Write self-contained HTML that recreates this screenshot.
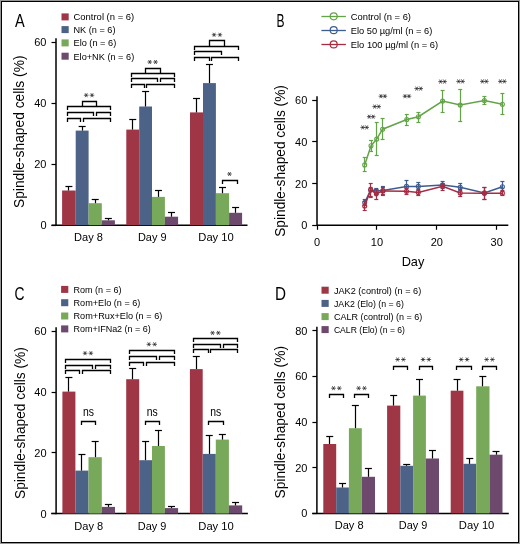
<!DOCTYPE html>
<html><head><meta charset="utf-8"><style>
html,body{margin:0;padding:0;background:#fff;}
body{width:520px;height:544px;overflow:hidden;}
svg{display:block;font-family:"Liberation Sans", sans-serif;will-change:transform;}
</style></head><body>
<svg width="520" height="544" viewBox="0 0 520 544">
<rect x="0" y="0" width="520" height="544" fill="#fff"/>
<rect x="0.5" y="0.5" width="519" height="543" fill="none" stroke="#969696" stroke-width="1"/>
<rect x="1.5" y="1.5" width="517" height="541" fill="none" stroke="#000" stroke-width="1"/>
<line x1="56.00" y1="38.30" x2="56.00" y2="225.80" stroke="#000" stroke-width="1.5"/>
<line x1="51.50" y1="225.20" x2="247.50" y2="225.20" stroke="#000" stroke-width="1.5"/>
<line x1="51.50" y1="225.50" x2="56.00" y2="225.50" stroke="#000" stroke-width="1.2"/>
<text x="46.50" y="229.10" font-size="11" text-anchor="end">0</text>
<line x1="51.50" y1="164.50" x2="56.00" y2="164.50" stroke="#000" stroke-width="1.2"/>
<text x="46.50" y="168.10" font-size="11" text-anchor="end">20</text>
<line x1="51.50" y1="103.50" x2="56.00" y2="103.50" stroke="#000" stroke-width="1.2"/>
<text x="46.50" y="107.10" font-size="11" text-anchor="end">40</text>
<line x1="51.50" y1="42.50" x2="56.00" y2="42.50" stroke="#000" stroke-width="1.2"/>
<text x="46.50" y="46.10" font-size="11" text-anchor="end">60</text>
<rect x="62.10" y="190.50" width="13.60" height="34.70" fill="#9f3646"/>
<rect x="75.70" y="130.60" width="12.90" height="94.60" fill="#4c6287"/>
<rect x="88.60" y="203.20" width="13.20" height="22.00" fill="#78a95a"/>
<rect x="101.80" y="220.30" width="13.10" height="4.90" fill="#6d4a6d"/>
<line x1="68.50" y1="190.50" x2="68.50" y2="186.30" stroke="#000" stroke-width="1.2"/>
<line x1="65.40" y1="186.50" x2="72.40" y2="186.50" stroke="#000" stroke-width="1.2"/>
<line x1="82.50" y1="130.60" x2="82.50" y2="126.00" stroke="#000" stroke-width="1.2"/>
<line x1="78.65" y1="126.50" x2="85.65" y2="126.50" stroke="#000" stroke-width="1.2"/>
<line x1="95.50" y1="203.20" x2="95.50" y2="199.60" stroke="#000" stroke-width="1.2"/>
<line x1="91.70" y1="199.50" x2="98.70" y2="199.50" stroke="#000" stroke-width="1.2"/>
<line x1="108.50" y1="220.30" x2="108.50" y2="218.60" stroke="#000" stroke-width="1.2"/>
<line x1="104.85" y1="218.50" x2="111.85" y2="218.50" stroke="#000" stroke-width="1.2"/>
<text x="88.50" y="240.50" font-size="11.5" text-anchor="middle" textLength="28.90" lengthAdjust="spacingAndGlyphs">Day 8</text>
<rect x="126.30" y="129.60" width="12.90" height="95.60" fill="#9f3646"/>
<rect x="139.20" y="106.50" width="12.80" height="118.70" fill="#4c6287"/>
<rect x="152.00" y="196.90" width="12.90" height="28.30" fill="#78a95a"/>
<rect x="164.90" y="216.70" width="13.20" height="8.50" fill="#6d4a6d"/>
<line x1="132.50" y1="129.60" x2="132.50" y2="119.70" stroke="#000" stroke-width="1.2"/>
<line x1="129.25" y1="119.50" x2="136.25" y2="119.50" stroke="#000" stroke-width="1.2"/>
<line x1="145.50" y1="106.50" x2="145.50" y2="91.80" stroke="#000" stroke-width="1.2"/>
<line x1="142.10" y1="91.50" x2="149.10" y2="91.50" stroke="#000" stroke-width="1.2"/>
<line x1="158.50" y1="196.90" x2="158.50" y2="190.80" stroke="#000" stroke-width="1.2"/>
<line x1="154.95" y1="190.50" x2="161.95" y2="190.50" stroke="#000" stroke-width="1.2"/>
<line x1="171.50" y1="216.70" x2="171.50" y2="212.70" stroke="#000" stroke-width="1.2"/>
<line x1="168.00" y1="212.50" x2="175.00" y2="212.50" stroke="#000" stroke-width="1.2"/>
<text x="152.20" y="240.50" font-size="11.5" text-anchor="middle" textLength="28.60" lengthAdjust="spacingAndGlyphs">Day 9</text>
<rect x="190.00" y="112.40" width="13.00" height="112.80" fill="#9f3646"/>
<rect x="203.00" y="83.10" width="12.90" height="142.10" fill="#4c6287"/>
<rect x="215.90" y="193.20" width="13.20" height="32.00" fill="#78a95a"/>
<rect x="229.10" y="212.80" width="13.00" height="12.40" fill="#6d4a6d"/>
<line x1="196.50" y1="112.40" x2="196.50" y2="98.80" stroke="#000" stroke-width="1.2"/>
<line x1="193.00" y1="98.50" x2="200.00" y2="98.50" stroke="#000" stroke-width="1.2"/>
<line x1="209.50" y1="83.10" x2="209.50" y2="64.10" stroke="#000" stroke-width="1.2"/>
<line x1="205.95" y1="64.50" x2="212.95" y2="64.50" stroke="#000" stroke-width="1.2"/>
<line x1="222.50" y1="193.20" x2="222.50" y2="187.70" stroke="#000" stroke-width="1.2"/>
<line x1="219.00" y1="187.50" x2="226.00" y2="187.50" stroke="#000" stroke-width="1.2"/>
<line x1="235.50" y1="212.80" x2="235.50" y2="207.00" stroke="#000" stroke-width="1.2"/>
<line x1="232.10" y1="207.50" x2="239.10" y2="207.50" stroke="#000" stroke-width="1.2"/>
<text x="216.05" y="240.50" font-size="11.5" text-anchor="middle" textLength="35.50" lengthAdjust="spacingAndGlyphs">Day 10</text>
<text x="15.10" y="26.60" font-size="18" text-anchor="start" textLength="9.70" lengthAdjust="spacingAndGlyphs">A</text>
<rect x="61.50" y="13.40" width="7.20" height="7.00" fill="#9f3646"/>
<text x="73.50" y="20.30" font-size="9.6" text-anchor="start" textLength="60.70" lengthAdjust="spacingAndGlyphs">Control (n = 6)</text>
<rect x="61.50" y="26.10" width="7.20" height="7.00" fill="#4c6287"/>
<text x="73.50" y="33.00" font-size="9.6" text-anchor="start" textLength="42.00" lengthAdjust="spacingAndGlyphs">NK (n = 6)</text>
<rect x="61.50" y="39.40" width="7.20" height="7.00" fill="#78a95a"/>
<text x="73.50" y="46.30" font-size="9.6" text-anchor="start" textLength="42.70" lengthAdjust="spacingAndGlyphs">Elo (n = 6)</text>
<rect x="61.50" y="52.70" width="7.20" height="7.00" fill="#6d4a6d"/>
<text x="73.50" y="59.60" font-size="9.6" text-anchor="start" textLength="60.70" lengthAdjust="spacingAndGlyphs">Elo+NK (n = 6)</text>
<text transform="translate(24.10,131.75) rotate(-90)" x="0" y="0" font-size="14" text-anchor="middle" textLength="152.50" lengthAdjust="spacingAndGlyphs">Spindle-shaped cells (%)</text>
<path d="M82.50,106.50V101.50H96.50V106.50" fill="none" stroke="#000" stroke-width="1.3"/>
<path d="M67.50,110.10V106.50H110.50V110.10" fill="none" stroke="#000" stroke-width="1.3"/>
<path d="M67.50,116.10V112.50H93.50V116.10" fill="none" stroke="#000" stroke-width="1.3"/>
<path d="M96.50,116.10V112.50H110.50V116.10" fill="none" stroke="#000" stroke-width="1.3"/>
<path d="M67.50,122.10V118.50H80.50V122.10" fill="none" stroke="#000" stroke-width="1.3"/>
<path d="M83.50,122.10V118.50H110.50V122.10" fill="none" stroke="#000" stroke-width="1.3"/>
<line x1="83.90" y1="95.20" x2="88.50" y2="95.20" stroke="#1a1a1a" stroke-width="0.7"/>
<line x1="85.05" y1="93.21" x2="87.35" y2="97.19" stroke="#1a1a1a" stroke-width="0.7"/>
<line x1="87.35" y1="93.21" x2="85.05" y2="97.19" stroke="#1a1a1a" stroke-width="0.7"/>
<line x1="89.70" y1="95.20" x2="94.30" y2="95.20" stroke="#1a1a1a" stroke-width="0.7"/>
<line x1="90.85" y1="93.21" x2="93.15" y2="97.19" stroke="#1a1a1a" stroke-width="0.7"/>
<line x1="93.15" y1="93.21" x2="90.85" y2="97.19" stroke="#1a1a1a" stroke-width="0.7"/>
<path d="M145.50,73.50V68.50H160.50V73.50" fill="none" stroke="#000" stroke-width="1.3"/>
<path d="M131.50,77.10V73.50H174.50V77.10" fill="none" stroke="#000" stroke-width="1.3"/>
<path d="M131.50,82.10V78.50H157.50V82.10" fill="none" stroke="#000" stroke-width="1.3"/>
<path d="M160.50,82.10V78.50H174.50V82.10" fill="none" stroke="#000" stroke-width="1.3"/>
<path d="M131.50,88.10V84.50H144.50V88.10" fill="none" stroke="#000" stroke-width="1.3"/>
<path d="M146.50,88.10V84.50H174.50V88.10" fill="none" stroke="#000" stroke-width="1.3"/>
<line x1="147.45" y1="62.00" x2="152.05" y2="62.00" stroke="#1a1a1a" stroke-width="0.7"/>
<line x1="148.60" y1="60.01" x2="150.90" y2="63.99" stroke="#1a1a1a" stroke-width="0.7"/>
<line x1="150.90" y1="60.01" x2="148.60" y2="63.99" stroke="#1a1a1a" stroke-width="0.7"/>
<line x1="153.25" y1="62.00" x2="157.85" y2="62.00" stroke="#1a1a1a" stroke-width="0.7"/>
<line x1="154.40" y1="60.01" x2="156.70" y2="63.99" stroke="#1a1a1a" stroke-width="0.7"/>
<line x1="156.70" y1="60.01" x2="154.40" y2="63.99" stroke="#1a1a1a" stroke-width="0.7"/>
<path d="M209.50,46.50V40.50H224.50V46.50" fill="none" stroke="#000" stroke-width="1.3"/>
<path d="M194.50,50.10V46.50H238.50V50.10" fill="none" stroke="#000" stroke-width="1.3"/>
<path d="M194.50,55.10V51.50H221.50V55.10" fill="none" stroke="#000" stroke-width="1.3"/>
<path d="M194.50,61.10V57.50H209.50V61.10" fill="none" stroke="#000" stroke-width="1.3"/>
<path d="M211.50,61.10V57.50H238.50V61.10" fill="none" stroke="#000" stroke-width="1.3"/>
<line x1="211.80" y1="34.80" x2="216.40" y2="34.80" stroke="#1a1a1a" stroke-width="0.7"/>
<line x1="212.95" y1="32.81" x2="215.25" y2="36.79" stroke="#1a1a1a" stroke-width="0.7"/>
<line x1="215.25" y1="32.81" x2="212.95" y2="36.79" stroke="#1a1a1a" stroke-width="0.7"/>
<line x1="217.60" y1="34.80" x2="222.20" y2="34.80" stroke="#1a1a1a" stroke-width="0.7"/>
<line x1="218.75" y1="32.81" x2="221.05" y2="36.79" stroke="#1a1a1a" stroke-width="0.7"/>
<line x1="221.05" y1="32.81" x2="218.75" y2="36.79" stroke="#1a1a1a" stroke-width="0.7"/>
<path d="M222.50,184.10V180.50H237.50V184.10" fill="none" stroke="#000" stroke-width="1.3"/>
<line x1="227.20" y1="174.00" x2="231.80" y2="174.00" stroke="#1a1a1a" stroke-width="0.7"/>
<line x1="228.35" y1="172.01" x2="230.65" y2="175.99" stroke="#1a1a1a" stroke-width="0.7"/>
<line x1="230.65" y1="172.01" x2="228.35" y2="175.99" stroke="#1a1a1a" stroke-width="0.7"/>
<line x1="317.00" y1="96.20" x2="317.00" y2="225.90" stroke="#000" stroke-width="1.5"/>
<line x1="317.00" y1="225.30" x2="508.30" y2="225.30" stroke="#000" stroke-width="1.5"/>
<line x1="312.20" y1="225.50" x2="317.00" y2="225.50" stroke="#000" stroke-width="1.2"/>
<text x="307.30" y="229.20" font-size="11" text-anchor="end">0</text>
<line x1="312.20" y1="183.50" x2="317.00" y2="183.50" stroke="#000" stroke-width="1.2"/>
<text x="307.30" y="187.53" font-size="11" text-anchor="end">20</text>
<line x1="312.20" y1="141.50" x2="317.00" y2="141.50" stroke="#000" stroke-width="1.2"/>
<text x="307.30" y="145.87" font-size="11" text-anchor="end">40</text>
<line x1="312.20" y1="100.50" x2="317.00" y2="100.50" stroke="#000" stroke-width="1.2"/>
<text x="307.30" y="104.20" font-size="11" text-anchor="end">60</text>
<line x1="317.50" y1="225.30" x2="317.50" y2="229.80" stroke="#000" stroke-width="1.2"/>
<text x="317.00" y="245.80" font-size="11" text-anchor="middle">0</text>
<line x1="376.50" y1="225.30" x2="376.50" y2="229.80" stroke="#000" stroke-width="1.2"/>
<text x="376.90" y="245.80" font-size="11" text-anchor="middle">10</text>
<line x1="436.50" y1="225.30" x2="436.50" y2="229.80" stroke="#000" stroke-width="1.2"/>
<text x="436.80" y="245.80" font-size="11" text-anchor="middle">20</text>
<line x1="496.50" y1="225.30" x2="496.50" y2="229.80" stroke="#000" stroke-width="1.2"/>
<text x="496.70" y="245.80" font-size="11" text-anchor="middle">30</text>
<text x="413.00" y="266.00" font-size="13.5" text-anchor="middle" textLength="22.70" lengthAdjust="spacingAndGlyphs">Day</text>
<text x="276.50" y="26.70" font-size="18" text-anchor="start" textLength="8.00" lengthAdjust="spacingAndGlyphs">B</text>
<text transform="translate(284.70,160.95) rotate(-90)" x="0" y="0" font-size="14" text-anchor="middle" textLength="151.70" lengthAdjust="spacingAndGlyphs">Spindle-shaped cells (%)</text>
<path d="M364.70,202.60 L370.70,190.00 L376.30,190.90 L382.90,190.50 L406.50,186.40 L418.30,186.40 L442.60,185.00 L460.20,187.20 L484.40,192.90 L502.40,186.70" fill="none" stroke="#3e5d8f" stroke-width="1.5"/>
<line x1="364.50" y1="199.60" x2="364.50" y2="205.00" stroke="#3e5d8f" stroke-width="1.2"/>
<line x1="362.70" y1="199.50" x2="366.70" y2="199.50" stroke="#3e5d8f" stroke-width="1.2"/>
<line x1="362.70" y1="205.50" x2="366.70" y2="205.50" stroke="#3e5d8f" stroke-width="1.2"/>
<circle cx="364.70" cy="202.60" r="2.0" fill="none" stroke="#3e5d8f" stroke-width="1.1"/>
<line x1="370.50" y1="187.80" x2="370.50" y2="197.60" stroke="#3e5d8f" stroke-width="1.2"/>
<line x1="368.70" y1="187.50" x2="372.70" y2="187.50" stroke="#3e5d8f" stroke-width="1.2"/>
<line x1="368.70" y1="197.50" x2="372.70" y2="197.50" stroke="#3e5d8f" stroke-width="1.2"/>
<circle cx="370.70" cy="190.00" r="2.0" fill="none" stroke="#3e5d8f" stroke-width="1.1"/>
<line x1="376.50" y1="188.00" x2="376.50" y2="194.00" stroke="#3e5d8f" stroke-width="1.2"/>
<line x1="374.30" y1="188.50" x2="378.30" y2="188.50" stroke="#3e5d8f" stroke-width="1.2"/>
<line x1="374.30" y1="194.50" x2="378.30" y2="194.50" stroke="#3e5d8f" stroke-width="1.2"/>
<circle cx="376.30" cy="190.90" r="2.0" fill="none" stroke="#3e5d8f" stroke-width="1.1"/>
<line x1="382.50" y1="186.40" x2="382.50" y2="195.60" stroke="#3e5d8f" stroke-width="1.2"/>
<line x1="380.90" y1="186.50" x2="384.90" y2="186.50" stroke="#3e5d8f" stroke-width="1.2"/>
<line x1="380.90" y1="195.50" x2="384.90" y2="195.50" stroke="#3e5d8f" stroke-width="1.2"/>
<circle cx="382.90" cy="190.50" r="2.0" fill="none" stroke="#3e5d8f" stroke-width="1.1"/>
<line x1="406.50" y1="180.70" x2="406.50" y2="191.80" stroke="#3e5d8f" stroke-width="1.2"/>
<line x1="404.50" y1="180.50" x2="408.50" y2="180.50" stroke="#3e5d8f" stroke-width="1.2"/>
<line x1="404.50" y1="191.50" x2="408.50" y2="191.50" stroke="#3e5d8f" stroke-width="1.2"/>
<circle cx="406.50" cy="186.40" r="2.0" fill="none" stroke="#3e5d8f" stroke-width="1.1"/>
<line x1="418.50" y1="182.40" x2="418.50" y2="189.80" stroke="#3e5d8f" stroke-width="1.2"/>
<line x1="416.30" y1="182.50" x2="420.30" y2="182.50" stroke="#3e5d8f" stroke-width="1.2"/>
<line x1="416.30" y1="189.50" x2="420.30" y2="189.50" stroke="#3e5d8f" stroke-width="1.2"/>
<circle cx="418.30" cy="186.40" r="2.0" fill="none" stroke="#3e5d8f" stroke-width="1.1"/>
<line x1="442.50" y1="181.80" x2="442.50" y2="188.00" stroke="#3e5d8f" stroke-width="1.2"/>
<line x1="440.60" y1="181.50" x2="444.60" y2="181.50" stroke="#3e5d8f" stroke-width="1.2"/>
<line x1="440.60" y1="188.50" x2="444.60" y2="188.50" stroke="#3e5d8f" stroke-width="1.2"/>
<circle cx="442.60" cy="185.00" r="2.0" fill="none" stroke="#3e5d8f" stroke-width="1.1"/>
<line x1="460.50" y1="183.90" x2="460.50" y2="190.40" stroke="#3e5d8f" stroke-width="1.2"/>
<line x1="458.20" y1="183.50" x2="462.20" y2="183.50" stroke="#3e5d8f" stroke-width="1.2"/>
<line x1="458.20" y1="190.50" x2="462.20" y2="190.50" stroke="#3e5d8f" stroke-width="1.2"/>
<circle cx="460.20" cy="187.20" r="2.0" fill="none" stroke="#3e5d8f" stroke-width="1.1"/>
<line x1="484.50" y1="187.00" x2="484.50" y2="199.40" stroke="#3e5d8f" stroke-width="1.2"/>
<line x1="482.40" y1="187.50" x2="486.40" y2="187.50" stroke="#3e5d8f" stroke-width="1.2"/>
<line x1="482.40" y1="199.50" x2="486.40" y2="199.50" stroke="#3e5d8f" stroke-width="1.2"/>
<circle cx="484.40" cy="192.90" r="2.0" fill="none" stroke="#3e5d8f" stroke-width="1.1"/>
<line x1="502.50" y1="181.80" x2="502.50" y2="191.00" stroke="#3e5d8f" stroke-width="1.2"/>
<line x1="500.40" y1="181.50" x2="504.40" y2="181.50" stroke="#3e5d8f" stroke-width="1.2"/>
<line x1="500.40" y1="191.50" x2="504.40" y2="191.50" stroke="#3e5d8f" stroke-width="1.2"/>
<circle cx="502.40" cy="186.70" r="2.0" fill="none" stroke="#3e5d8f" stroke-width="1.1"/>
<path d="M364.70,206.00 L370.70,189.80 L376.30,193.80 L382.90,190.90 L406.50,191.20 L418.30,192.50 L442.60,186.30 L460.20,192.90 L484.40,193.20 L502.40,193.20" fill="none" stroke="#a52c42" stroke-width="1.5"/>
<line x1="364.50" y1="201.20" x2="364.50" y2="210.30" stroke="#a52c42" stroke-width="1.2"/>
<line x1="362.70" y1="201.50" x2="366.70" y2="201.50" stroke="#a52c42" stroke-width="1.2"/>
<line x1="362.70" y1="210.50" x2="366.70" y2="210.50" stroke="#a52c42" stroke-width="1.2"/>
<circle cx="364.70" cy="206.00" r="2.0" fill="none" stroke="#a52c42" stroke-width="1.1"/>
<line x1="370.50" y1="183.30" x2="370.50" y2="196.50" stroke="#a52c42" stroke-width="1.2"/>
<line x1="368.70" y1="183.50" x2="372.70" y2="183.50" stroke="#a52c42" stroke-width="1.2"/>
<line x1="368.70" y1="196.50" x2="372.70" y2="196.50" stroke="#a52c42" stroke-width="1.2"/>
<circle cx="370.70" cy="189.80" r="2.0" fill="none" stroke="#a52c42" stroke-width="1.1"/>
<line x1="376.50" y1="189.10" x2="376.50" y2="199.20" stroke="#a52c42" stroke-width="1.2"/>
<line x1="374.30" y1="189.50" x2="378.30" y2="189.50" stroke="#a52c42" stroke-width="1.2"/>
<line x1="374.30" y1="199.50" x2="378.30" y2="199.50" stroke="#a52c42" stroke-width="1.2"/>
<circle cx="376.30" cy="193.80" r="2.0" fill="none" stroke="#a52c42" stroke-width="1.1"/>
<line x1="382.50" y1="187.50" x2="382.50" y2="194.00" stroke="#a52c42" stroke-width="1.2"/>
<line x1="380.90" y1="187.50" x2="384.90" y2="187.50" stroke="#a52c42" stroke-width="1.2"/>
<line x1="380.90" y1="194.50" x2="384.90" y2="194.50" stroke="#a52c42" stroke-width="1.2"/>
<circle cx="382.90" cy="190.90" r="2.0" fill="none" stroke="#a52c42" stroke-width="1.1"/>
<line x1="406.50" y1="188.90" x2="406.50" y2="194.90" stroke="#a52c42" stroke-width="1.2"/>
<line x1="404.50" y1="188.50" x2="408.50" y2="188.50" stroke="#a52c42" stroke-width="1.2"/>
<line x1="404.50" y1="194.50" x2="408.50" y2="194.50" stroke="#a52c42" stroke-width="1.2"/>
<circle cx="406.50" cy="191.20" r="2.0" fill="none" stroke="#a52c42" stroke-width="1.1"/>
<line x1="418.50" y1="190.00" x2="418.50" y2="195.50" stroke="#a52c42" stroke-width="1.2"/>
<line x1="416.30" y1="190.50" x2="420.30" y2="190.50" stroke="#a52c42" stroke-width="1.2"/>
<line x1="416.30" y1="195.50" x2="420.30" y2="195.50" stroke="#a52c42" stroke-width="1.2"/>
<circle cx="418.30" cy="192.50" r="2.0" fill="none" stroke="#a52c42" stroke-width="1.1"/>
<line x1="442.50" y1="183.00" x2="442.50" y2="190.40" stroke="#a52c42" stroke-width="1.2"/>
<line x1="440.60" y1="183.50" x2="444.60" y2="183.50" stroke="#a52c42" stroke-width="1.2"/>
<line x1="440.60" y1="190.50" x2="444.60" y2="190.50" stroke="#a52c42" stroke-width="1.2"/>
<circle cx="442.60" cy="186.30" r="2.0" fill="none" stroke="#a52c42" stroke-width="1.1"/>
<line x1="460.50" y1="189.60" x2="460.50" y2="196.50" stroke="#a52c42" stroke-width="1.2"/>
<line x1="458.20" y1="189.50" x2="462.20" y2="189.50" stroke="#a52c42" stroke-width="1.2"/>
<line x1="458.20" y1="196.50" x2="462.20" y2="196.50" stroke="#a52c42" stroke-width="1.2"/>
<circle cx="460.20" cy="192.90" r="2.0" fill="none" stroke="#a52c42" stroke-width="1.1"/>
<line x1="484.50" y1="187.20" x2="484.50" y2="199.40" stroke="#a52c42" stroke-width="1.2"/>
<line x1="482.40" y1="187.50" x2="486.40" y2="187.50" stroke="#a52c42" stroke-width="1.2"/>
<line x1="482.40" y1="199.50" x2="486.40" y2="199.50" stroke="#a52c42" stroke-width="1.2"/>
<circle cx="484.40" cy="193.20" r="2.0" fill="none" stroke="#a52c42" stroke-width="1.1"/>
<line x1="502.50" y1="190.90" x2="502.50" y2="195.30" stroke="#a52c42" stroke-width="1.2"/>
<line x1="500.40" y1="190.50" x2="504.40" y2="190.50" stroke="#a52c42" stroke-width="1.2"/>
<line x1="500.40" y1="195.50" x2="504.40" y2="195.50" stroke="#a52c42" stroke-width="1.2"/>
<circle cx="502.40" cy="193.20" r="2.0" fill="none" stroke="#a52c42" stroke-width="1.1"/>
<path d="M364.70,164.90 L371.00,145.80 L376.70,139.10 L382.60,129.20 L406.80,119.50 L418.40,116.70 L442.60,101.10 L460.20,105.10 L484.40,100.60 L502.40,104.30" fill="none" stroke="#64a449" stroke-width="1.5"/>
<line x1="364.50" y1="157.50" x2="364.50" y2="171.50" stroke="#64a449" stroke-width="1.2"/>
<line x1="362.70" y1="157.50" x2="366.70" y2="157.50" stroke="#64a449" stroke-width="1.2"/>
<line x1="362.70" y1="171.50" x2="366.70" y2="171.50" stroke="#64a449" stroke-width="1.2"/>
<circle cx="364.70" cy="164.90" r="2.0" fill="none" stroke="#64a449" stroke-width="1.1"/>
<line x1="371.50" y1="140.60" x2="371.50" y2="151.30" stroke="#64a449" stroke-width="1.2"/>
<line x1="369.00" y1="140.50" x2="373.00" y2="140.50" stroke="#64a449" stroke-width="1.2"/>
<line x1="369.00" y1="151.50" x2="373.00" y2="151.50" stroke="#64a449" stroke-width="1.2"/>
<circle cx="371.00" cy="145.80" r="2.0" fill="none" stroke="#64a449" stroke-width="1.1"/>
<line x1="376.50" y1="122.60" x2="376.50" y2="155.30" stroke="#64a449" stroke-width="1.2"/>
<line x1="374.70" y1="122.50" x2="378.70" y2="122.50" stroke="#64a449" stroke-width="1.2"/>
<line x1="374.70" y1="155.50" x2="378.70" y2="155.50" stroke="#64a449" stroke-width="1.2"/>
<circle cx="376.70" cy="139.10" r="2.0" fill="none" stroke="#64a449" stroke-width="1.1"/>
<line x1="382.50" y1="118.90" x2="382.50" y2="139.70" stroke="#64a449" stroke-width="1.2"/>
<line x1="380.60" y1="118.50" x2="384.60" y2="118.50" stroke="#64a449" stroke-width="1.2"/>
<line x1="380.60" y1="139.50" x2="384.60" y2="139.50" stroke="#64a449" stroke-width="1.2"/>
<circle cx="382.60" cy="129.20" r="2.0" fill="none" stroke="#64a449" stroke-width="1.1"/>
<line x1="406.50" y1="114.00" x2="406.50" y2="125.90" stroke="#64a449" stroke-width="1.2"/>
<line x1="404.80" y1="114.50" x2="408.80" y2="114.50" stroke="#64a449" stroke-width="1.2"/>
<line x1="404.80" y1="125.50" x2="408.80" y2="125.50" stroke="#64a449" stroke-width="1.2"/>
<circle cx="406.80" cy="119.50" r="2.0" fill="none" stroke="#64a449" stroke-width="1.1"/>
<line x1="418.50" y1="112.10" x2="418.50" y2="122.20" stroke="#64a449" stroke-width="1.2"/>
<line x1="416.40" y1="112.50" x2="420.40" y2="112.50" stroke="#64a449" stroke-width="1.2"/>
<line x1="416.40" y1="122.50" x2="420.40" y2="122.50" stroke="#64a449" stroke-width="1.2"/>
<circle cx="418.40" cy="116.70" r="2.0" fill="none" stroke="#64a449" stroke-width="1.1"/>
<line x1="442.50" y1="90.40" x2="442.50" y2="112.50" stroke="#64a449" stroke-width="1.2"/>
<line x1="440.60" y1="90.50" x2="444.60" y2="90.50" stroke="#64a449" stroke-width="1.2"/>
<line x1="440.60" y1="112.50" x2="444.60" y2="112.50" stroke="#64a449" stroke-width="1.2"/>
<circle cx="442.60" cy="101.10" r="2.0" fill="none" stroke="#64a449" stroke-width="1.1"/>
<line x1="460.50" y1="89.10" x2="460.50" y2="121.00" stroke="#64a449" stroke-width="1.2"/>
<line x1="458.20" y1="89.50" x2="462.20" y2="89.50" stroke="#64a449" stroke-width="1.2"/>
<line x1="458.20" y1="121.50" x2="462.20" y2="121.50" stroke="#64a449" stroke-width="1.2"/>
<circle cx="460.20" cy="105.10" r="2.0" fill="none" stroke="#64a449" stroke-width="1.1"/>
<line x1="484.50" y1="96.20" x2="484.50" y2="104.80" stroke="#64a449" stroke-width="1.2"/>
<line x1="482.40" y1="96.50" x2="486.40" y2="96.50" stroke="#64a449" stroke-width="1.2"/>
<line x1="482.40" y1="104.50" x2="486.40" y2="104.50" stroke="#64a449" stroke-width="1.2"/>
<circle cx="484.40" cy="100.60" r="2.0" fill="none" stroke="#64a449" stroke-width="1.1"/>
<line x1="502.50" y1="93.70" x2="502.50" y2="114.60" stroke="#64a449" stroke-width="1.2"/>
<line x1="500.40" y1="93.50" x2="504.40" y2="93.50" stroke="#64a449" stroke-width="1.2"/>
<line x1="500.40" y1="114.50" x2="504.40" y2="114.50" stroke="#64a449" stroke-width="1.2"/>
<circle cx="502.40" cy="104.30" r="2.0" fill="none" stroke="#64a449" stroke-width="1.1"/>
<line x1="360.40" y1="127.40" x2="365.00" y2="127.40" stroke="#1a1a1a" stroke-width="0.7"/>
<line x1="361.55" y1="125.41" x2="363.85" y2="129.39" stroke="#1a1a1a" stroke-width="0.7"/>
<line x1="363.85" y1="125.41" x2="361.55" y2="129.39" stroke="#1a1a1a" stroke-width="0.7"/>
<line x1="364.40" y1="127.40" x2="369.00" y2="127.40" stroke="#1a1a1a" stroke-width="0.7"/>
<line x1="365.55" y1="125.41" x2="367.85" y2="129.39" stroke="#1a1a1a" stroke-width="0.7"/>
<line x1="367.85" y1="125.41" x2="365.55" y2="129.39" stroke="#1a1a1a" stroke-width="0.7"/>
<line x1="366.90" y1="116.70" x2="371.50" y2="116.70" stroke="#1a1a1a" stroke-width="0.7"/>
<line x1="368.05" y1="114.71" x2="370.35" y2="118.69" stroke="#1a1a1a" stroke-width="0.7"/>
<line x1="370.35" y1="114.71" x2="368.05" y2="118.69" stroke="#1a1a1a" stroke-width="0.7"/>
<line x1="370.90" y1="116.70" x2="375.50" y2="116.70" stroke="#1a1a1a" stroke-width="0.7"/>
<line x1="372.05" y1="114.71" x2="374.35" y2="118.69" stroke="#1a1a1a" stroke-width="0.7"/>
<line x1="374.35" y1="114.71" x2="372.05" y2="118.69" stroke="#1a1a1a" stroke-width="0.7"/>
<line x1="372.40" y1="106.60" x2="377.00" y2="106.60" stroke="#1a1a1a" stroke-width="0.7"/>
<line x1="373.55" y1="104.61" x2="375.85" y2="108.59" stroke="#1a1a1a" stroke-width="0.7"/>
<line x1="375.85" y1="104.61" x2="373.55" y2="108.59" stroke="#1a1a1a" stroke-width="0.7"/>
<line x1="376.40" y1="106.60" x2="381.00" y2="106.60" stroke="#1a1a1a" stroke-width="0.7"/>
<line x1="377.55" y1="104.61" x2="379.85" y2="108.59" stroke="#1a1a1a" stroke-width="0.7"/>
<line x1="379.85" y1="104.61" x2="377.55" y2="108.59" stroke="#1a1a1a" stroke-width="0.7"/>
<line x1="378.60" y1="96.20" x2="383.20" y2="96.20" stroke="#1a1a1a" stroke-width="0.7"/>
<line x1="379.75" y1="94.21" x2="382.05" y2="98.19" stroke="#1a1a1a" stroke-width="0.7"/>
<line x1="382.05" y1="94.21" x2="379.75" y2="98.19" stroke="#1a1a1a" stroke-width="0.7"/>
<line x1="382.60" y1="96.20" x2="387.20" y2="96.20" stroke="#1a1a1a" stroke-width="0.7"/>
<line x1="383.75" y1="94.21" x2="386.05" y2="98.19" stroke="#1a1a1a" stroke-width="0.7"/>
<line x1="386.05" y1="94.21" x2="383.75" y2="98.19" stroke="#1a1a1a" stroke-width="0.7"/>
<line x1="402.70" y1="96.20" x2="407.30" y2="96.20" stroke="#1a1a1a" stroke-width="0.7"/>
<line x1="403.85" y1="94.21" x2="406.15" y2="98.19" stroke="#1a1a1a" stroke-width="0.7"/>
<line x1="406.15" y1="94.21" x2="403.85" y2="98.19" stroke="#1a1a1a" stroke-width="0.7"/>
<line x1="406.70" y1="96.20" x2="411.30" y2="96.20" stroke="#1a1a1a" stroke-width="0.7"/>
<line x1="407.85" y1="94.21" x2="410.15" y2="98.19" stroke="#1a1a1a" stroke-width="0.7"/>
<line x1="410.15" y1="94.21" x2="407.85" y2="98.19" stroke="#1a1a1a" stroke-width="0.7"/>
<line x1="414.40" y1="88.60" x2="419.00" y2="88.60" stroke="#1a1a1a" stroke-width="0.7"/>
<line x1="415.55" y1="86.61" x2="417.85" y2="90.59" stroke="#1a1a1a" stroke-width="0.7"/>
<line x1="417.85" y1="86.61" x2="415.55" y2="90.59" stroke="#1a1a1a" stroke-width="0.7"/>
<line x1="418.40" y1="88.60" x2="423.00" y2="88.60" stroke="#1a1a1a" stroke-width="0.7"/>
<line x1="419.55" y1="86.61" x2="421.85" y2="90.59" stroke="#1a1a1a" stroke-width="0.7"/>
<line x1="421.85" y1="86.61" x2="419.55" y2="90.59" stroke="#1a1a1a" stroke-width="0.7"/>
<line x1="438.30" y1="81.60" x2="442.90" y2="81.60" stroke="#1a1a1a" stroke-width="0.7"/>
<line x1="439.45" y1="79.61" x2="441.75" y2="83.59" stroke="#1a1a1a" stroke-width="0.7"/>
<line x1="441.75" y1="79.61" x2="439.45" y2="83.59" stroke="#1a1a1a" stroke-width="0.7"/>
<line x1="442.30" y1="81.60" x2="446.90" y2="81.60" stroke="#1a1a1a" stroke-width="0.7"/>
<line x1="443.45" y1="79.61" x2="445.75" y2="83.59" stroke="#1a1a1a" stroke-width="0.7"/>
<line x1="445.75" y1="79.61" x2="443.45" y2="83.59" stroke="#1a1a1a" stroke-width="0.7"/>
<line x1="456.30" y1="81.40" x2="460.90" y2="81.40" stroke="#1a1a1a" stroke-width="0.7"/>
<line x1="457.45" y1="79.41" x2="459.75" y2="83.39" stroke="#1a1a1a" stroke-width="0.7"/>
<line x1="459.75" y1="79.41" x2="457.45" y2="83.39" stroke="#1a1a1a" stroke-width="0.7"/>
<line x1="460.30" y1="81.40" x2="464.90" y2="81.40" stroke="#1a1a1a" stroke-width="0.7"/>
<line x1="461.45" y1="79.41" x2="463.75" y2="83.39" stroke="#1a1a1a" stroke-width="0.7"/>
<line x1="463.75" y1="79.41" x2="461.45" y2="83.39" stroke="#1a1a1a" stroke-width="0.7"/>
<line x1="480.10" y1="81.40" x2="484.70" y2="81.40" stroke="#1a1a1a" stroke-width="0.7"/>
<line x1="481.25" y1="79.41" x2="483.55" y2="83.39" stroke="#1a1a1a" stroke-width="0.7"/>
<line x1="483.55" y1="79.41" x2="481.25" y2="83.39" stroke="#1a1a1a" stroke-width="0.7"/>
<line x1="484.10" y1="81.40" x2="488.70" y2="81.40" stroke="#1a1a1a" stroke-width="0.7"/>
<line x1="485.25" y1="79.41" x2="487.55" y2="83.39" stroke="#1a1a1a" stroke-width="0.7"/>
<line x1="487.55" y1="79.41" x2="485.25" y2="83.39" stroke="#1a1a1a" stroke-width="0.7"/>
<line x1="498.10" y1="81.40" x2="502.70" y2="81.40" stroke="#1a1a1a" stroke-width="0.7"/>
<line x1="499.25" y1="79.41" x2="501.55" y2="83.39" stroke="#1a1a1a" stroke-width="0.7"/>
<line x1="501.55" y1="79.41" x2="499.25" y2="83.39" stroke="#1a1a1a" stroke-width="0.7"/>
<line x1="502.10" y1="81.40" x2="506.70" y2="81.40" stroke="#1a1a1a" stroke-width="0.7"/>
<line x1="503.25" y1="79.41" x2="505.55" y2="83.39" stroke="#1a1a1a" stroke-width="0.7"/>
<line x1="505.55" y1="79.41" x2="503.25" y2="83.39" stroke="#1a1a1a" stroke-width="0.7"/>
<line x1="321.40" y1="16.50" x2="345.90" y2="16.50" stroke="#64a449" stroke-width="1.3"/>
<circle cx="333.7" cy="16.30" r="3.5" fill="none" stroke="#64a449" stroke-width="1.2"/>
<text x="350.80" y="19.70" font-size="9.6" text-anchor="start" textLength="60.20" lengthAdjust="spacingAndGlyphs">Control (n = 6)</text>
<line x1="321.40" y1="30.50" x2="345.90" y2="30.50" stroke="#3e5d8f" stroke-width="1.3"/>
<circle cx="333.7" cy="30.20" r="3.5" fill="none" stroke="#3e5d8f" stroke-width="1.2"/>
<text x="350.80" y="33.60" font-size="9.6" text-anchor="start" textLength="81.50" lengthAdjust="spacingAndGlyphs">Elo 50 µg/ml (n = 6)</text>
<line x1="321.40" y1="44.50" x2="345.90" y2="44.50" stroke="#a52c42" stroke-width="1.3"/>
<circle cx="333.7" cy="44.40" r="3.5" fill="none" stroke="#a52c42" stroke-width="1.2"/>
<text x="350.80" y="47.80" font-size="9.6" text-anchor="start" textLength="87.30" lengthAdjust="spacingAndGlyphs">Elo 100 µg/ml (n = 6)</text>
<line x1="56.10" y1="327.20" x2="56.10" y2="514.20" stroke="#000" stroke-width="1.5"/>
<line x1="51.20" y1="513.60" x2="247.90" y2="513.60" stroke="#000" stroke-width="1.5"/>
<line x1="51.60" y1="513.50" x2="56.10" y2="513.50" stroke="#000" stroke-width="1.2"/>
<text x="46.60" y="517.50" font-size="11" text-anchor="end">0</text>
<line x1="51.60" y1="452.50" x2="56.10" y2="452.50" stroke="#000" stroke-width="1.2"/>
<text x="46.60" y="456.76" font-size="11" text-anchor="end">20</text>
<line x1="51.60" y1="392.50" x2="56.10" y2="392.50" stroke="#000" stroke-width="1.2"/>
<text x="46.60" y="396.02" font-size="11" text-anchor="end">40</text>
<line x1="51.60" y1="331.50" x2="56.10" y2="331.50" stroke="#000" stroke-width="1.2"/>
<text x="46.60" y="335.28" font-size="11" text-anchor="end">60</text>
<rect x="62.40" y="391.60" width="13.00" height="122.00" fill="#9f3646"/>
<rect x="75.40" y="470.60" width="13.10" height="43.00" fill="#4c6287"/>
<rect x="88.50" y="457.20" width="13.30" height="56.40" fill="#78a95a"/>
<rect x="101.80" y="506.90" width="13.20" height="6.70" fill="#6d4a6d"/>
<line x1="68.50" y1="391.60" x2="68.50" y2="377.40" stroke="#000" stroke-width="1.2"/>
<line x1="65.40" y1="377.50" x2="72.40" y2="377.50" stroke="#000" stroke-width="1.2"/>
<line x1="81.50" y1="470.60" x2="81.50" y2="454.30" stroke="#000" stroke-width="1.2"/>
<line x1="78.45" y1="454.50" x2="85.45" y2="454.50" stroke="#000" stroke-width="1.2"/>
<line x1="95.50" y1="457.20" x2="95.50" y2="441.50" stroke="#000" stroke-width="1.2"/>
<line x1="91.65" y1="441.50" x2="98.65" y2="441.50" stroke="#000" stroke-width="1.2"/>
<line x1="108.50" y1="506.90" x2="108.50" y2="504.10" stroke="#000" stroke-width="1.2"/>
<line x1="104.90" y1="504.50" x2="111.90" y2="504.50" stroke="#000" stroke-width="1.2"/>
<text x="88.70" y="529.50" font-size="11.5" text-anchor="middle" textLength="28.90" lengthAdjust="spacingAndGlyphs">Day 8</text>
<rect x="126.20" y="379.20" width="13.00" height="134.40" fill="#9f3646"/>
<rect x="139.20" y="460.20" width="12.80" height="53.40" fill="#4c6287"/>
<rect x="152.00" y="446.00" width="12.90" height="67.60" fill="#78a95a"/>
<rect x="164.90" y="508.10" width="13.20" height="5.50" fill="#6d4a6d"/>
<line x1="132.50" y1="379.20" x2="132.50" y2="368.10" stroke="#000" stroke-width="1.2"/>
<line x1="129.20" y1="368.50" x2="136.20" y2="368.50" stroke="#000" stroke-width="1.2"/>
<line x1="145.50" y1="460.20" x2="145.50" y2="441.80" stroke="#000" stroke-width="1.2"/>
<line x1="142.10" y1="441.50" x2="149.10" y2="441.50" stroke="#000" stroke-width="1.2"/>
<line x1="158.50" y1="446.00" x2="158.50" y2="430.20" stroke="#000" stroke-width="1.2"/>
<line x1="154.95" y1="430.50" x2="161.95" y2="430.50" stroke="#000" stroke-width="1.2"/>
<line x1="171.50" y1="508.10" x2="171.50" y2="506.10" stroke="#000" stroke-width="1.2"/>
<line x1="168.00" y1="506.50" x2="175.00" y2="506.50" stroke="#000" stroke-width="1.2"/>
<text x="152.15" y="529.50" font-size="11.5" text-anchor="middle" textLength="28.60" lengthAdjust="spacingAndGlyphs">Day 9</text>
<rect x="189.90" y="369.10" width="12.80" height="144.50" fill="#9f3646"/>
<rect x="202.70" y="453.90" width="13.10" height="59.70" fill="#4c6287"/>
<rect x="215.80" y="439.60" width="13.10" height="74.00" fill="#78a95a"/>
<rect x="228.90" y="505.40" width="13.30" height="8.20" fill="#6d4a6d"/>
<line x1="196.50" y1="369.10" x2="196.50" y2="356.70" stroke="#000" stroke-width="1.2"/>
<line x1="192.80" y1="356.50" x2="199.80" y2="356.50" stroke="#000" stroke-width="1.2"/>
<line x1="209.50" y1="453.90" x2="209.50" y2="435.40" stroke="#000" stroke-width="1.2"/>
<line x1="205.75" y1="435.50" x2="212.75" y2="435.50" stroke="#000" stroke-width="1.2"/>
<line x1="222.50" y1="439.60" x2="222.50" y2="434.60" stroke="#000" stroke-width="1.2"/>
<line x1="218.85" y1="434.50" x2="225.85" y2="434.50" stroke="#000" stroke-width="1.2"/>
<line x1="235.50" y1="505.40" x2="235.50" y2="502.40" stroke="#000" stroke-width="1.2"/>
<line x1="232.05" y1="502.50" x2="239.05" y2="502.50" stroke="#000" stroke-width="1.2"/>
<text x="216.05" y="529.50" font-size="11.5" text-anchor="middle" textLength="35.50" lengthAdjust="spacingAndGlyphs">Day 10</text>
<text x="14.40" y="299.90" font-size="18" text-anchor="start" textLength="10.00" lengthAdjust="spacingAndGlyphs">C</text>
<rect x="61.10" y="285.90" width="7.20" height="7.00" fill="#9f3646"/>
<text x="73.50" y="292.80" font-size="9.6" text-anchor="start" textLength="48.00" lengthAdjust="spacingAndGlyphs">Rom (n = 6)</text>
<rect x="61.10" y="299.20" width="7.20" height="7.00" fill="#4c6287"/>
<text x="73.50" y="306.10" font-size="9.6" text-anchor="start" textLength="66.90" lengthAdjust="spacingAndGlyphs">Rom+Elo (n = 6)</text>
<rect x="61.10" y="312.50" width="7.20" height="7.00" fill="#78a95a"/>
<text x="73.50" y="319.40" font-size="9.6" text-anchor="start" textLength="88.80" lengthAdjust="spacingAndGlyphs">Rom+Rux+Elo (n = 6)</text>
<rect x="61.10" y="325.40" width="7.20" height="7.00" fill="#6d4a6d"/>
<text x="73.50" y="332.30" font-size="9.6" text-anchor="start" textLength="77.30" lengthAdjust="spacingAndGlyphs">Rom+IFNa2 (n = 6)</text>
<text transform="translate(24.50,423.05) rotate(-90)" x="0" y="0" font-size="14" text-anchor="middle" textLength="151.90" lengthAdjust="spacingAndGlyphs">Spindle-shaped cells (%)</text>
<path d="M65.50,363.10V359.50H110.50V363.10" fill="none" stroke="#000" stroke-width="1.3"/>
<path d="M65.50,369.10V365.50H92.50V369.10" fill="none" stroke="#000" stroke-width="1.3"/>
<path d="M95.50,369.10V365.50H110.50V369.10" fill="none" stroke="#000" stroke-width="1.3"/>
<path d="M65.50,374.10V370.50H79.50V374.10" fill="none" stroke="#000" stroke-width="1.3"/>
<path d="M82.50,374.10V370.50H110.50V374.10" fill="none" stroke="#000" stroke-width="1.3"/>
<line x1="82.75" y1="353.20" x2="87.35" y2="353.20" stroke="#1a1a1a" stroke-width="0.7"/>
<line x1="83.90" y1="351.21" x2="86.20" y2="355.19" stroke="#1a1a1a" stroke-width="0.7"/>
<line x1="86.20" y1="351.21" x2="83.90" y2="355.19" stroke="#1a1a1a" stroke-width="0.7"/>
<line x1="88.55" y1="353.20" x2="93.15" y2="353.20" stroke="#1a1a1a" stroke-width="0.7"/>
<line x1="89.70" y1="351.21" x2="92.00" y2="355.19" stroke="#1a1a1a" stroke-width="0.7"/>
<line x1="92.00" y1="351.21" x2="89.70" y2="355.19" stroke="#1a1a1a" stroke-width="0.7"/>
<path d="M81.50,425.10V421.50H95.50V425.10" fill="none" stroke="#000" stroke-width="1.3"/>
<text x="88.50" y="415.60" font-size="12.5" text-anchor="middle" textLength="11.00" lengthAdjust="spacingAndGlyphs">ns</text>
<path d="M129.50,354.10V350.50H174.50V354.10" fill="none" stroke="#000" stroke-width="1.3"/>
<path d="M129.50,360.10V356.50H156.50V360.10" fill="none" stroke="#000" stroke-width="1.3"/>
<path d="M159.50,360.10V356.50H174.50V360.10" fill="none" stroke="#000" stroke-width="1.3"/>
<path d="M129.50,366.10V362.50H143.50V366.10" fill="none" stroke="#000" stroke-width="1.3"/>
<path d="M146.50,366.10V362.50H174.50V366.10" fill="none" stroke="#000" stroke-width="1.3"/>
<line x1="146.55" y1="344.30" x2="151.15" y2="344.30" stroke="#1a1a1a" stroke-width="0.7"/>
<line x1="147.70" y1="342.31" x2="150.00" y2="346.29" stroke="#1a1a1a" stroke-width="0.7"/>
<line x1="150.00" y1="342.31" x2="147.70" y2="346.29" stroke="#1a1a1a" stroke-width="0.7"/>
<line x1="152.35" y1="344.30" x2="156.95" y2="344.30" stroke="#1a1a1a" stroke-width="0.7"/>
<line x1="153.50" y1="342.31" x2="155.80" y2="346.29" stroke="#1a1a1a" stroke-width="0.7"/>
<line x1="155.80" y1="342.31" x2="153.50" y2="346.29" stroke="#1a1a1a" stroke-width="0.7"/>
<path d="M145.50,425.10V421.50H159.50V425.10" fill="none" stroke="#000" stroke-width="1.3"/>
<text x="152.20" y="415.60" font-size="12.5" text-anchor="middle" textLength="11.00" lengthAdjust="spacingAndGlyphs">ns</text>
<path d="M193.50,342.10V338.50H237.50V342.10" fill="none" stroke="#000" stroke-width="1.3"/>
<path d="M193.50,348.10V344.50H220.50V348.10" fill="none" stroke="#000" stroke-width="1.3"/>
<path d="M223.50,348.10V344.50H237.50V348.10" fill="none" stroke="#000" stroke-width="1.3"/>
<path d="M193.50,353.10V349.50H208.50V353.10" fill="none" stroke="#000" stroke-width="1.3"/>
<path d="M210.50,353.10V349.50H237.50V353.10" fill="none" stroke="#000" stroke-width="1.3"/>
<line x1="210.25" y1="332.90" x2="214.85" y2="332.90" stroke="#1a1a1a" stroke-width="0.7"/>
<line x1="211.40" y1="330.91" x2="213.70" y2="334.89" stroke="#1a1a1a" stroke-width="0.7"/>
<line x1="213.70" y1="330.91" x2="211.40" y2="334.89" stroke="#1a1a1a" stroke-width="0.7"/>
<line x1="216.05" y1="332.90" x2="220.65" y2="332.90" stroke="#1a1a1a" stroke-width="0.7"/>
<line x1="217.20" y1="330.91" x2="219.50" y2="334.89" stroke="#1a1a1a" stroke-width="0.7"/>
<line x1="219.50" y1="330.91" x2="217.20" y2="334.89" stroke="#1a1a1a" stroke-width="0.7"/>
<path d="M208.50,425.10V421.50H223.50V425.10" fill="none" stroke="#000" stroke-width="1.3"/>
<text x="215.70" y="415.60" font-size="12.5" text-anchor="middle" textLength="11.00" lengthAdjust="spacingAndGlyphs">ns</text>
<line x1="316.90" y1="326.70" x2="316.90" y2="514.00" stroke="#000" stroke-width="1.5"/>
<line x1="312.20" y1="513.40" x2="508.80" y2="513.40" stroke="#000" stroke-width="1.5"/>
<line x1="312.40" y1="513.50" x2="316.90" y2="513.50" stroke="#000" stroke-width="1.2"/>
<text x="307.40" y="517.30" font-size="11" text-anchor="end">0</text>
<line x1="312.40" y1="467.50" x2="316.90" y2="467.50" stroke="#000" stroke-width="1.2"/>
<text x="307.40" y="471.62" font-size="11" text-anchor="end">20</text>
<line x1="312.40" y1="422.50" x2="316.90" y2="422.50" stroke="#000" stroke-width="1.2"/>
<text x="307.40" y="425.94" font-size="11" text-anchor="end">40</text>
<line x1="312.40" y1="376.50" x2="316.90" y2="376.50" stroke="#000" stroke-width="1.2"/>
<text x="307.40" y="380.26" font-size="11" text-anchor="end">60</text>
<line x1="312.40" y1="330.50" x2="316.90" y2="330.50" stroke="#000" stroke-width="1.2"/>
<text x="307.40" y="334.58" font-size="11" text-anchor="end">80</text>
<rect x="323.30" y="444.00" width="12.90" height="69.40" fill="#9f3646"/>
<rect x="336.20" y="487.50" width="12.70" height="25.90" fill="#4c6287"/>
<rect x="348.90" y="428.20" width="12.90" height="85.20" fill="#78a95a"/>
<rect x="361.80" y="476.80" width="13.20" height="36.60" fill="#6d4a6d"/>
<line x1="329.50" y1="444.00" x2="329.50" y2="436.60" stroke="#000" stroke-width="1.2"/>
<line x1="326.25" y1="436.50" x2="333.25" y2="436.50" stroke="#000" stroke-width="1.2"/>
<line x1="342.50" y1="487.50" x2="342.50" y2="483.70" stroke="#000" stroke-width="1.2"/>
<line x1="339.05" y1="483.50" x2="346.05" y2="483.50" stroke="#000" stroke-width="1.2"/>
<line x1="355.50" y1="428.20" x2="355.50" y2="405.60" stroke="#000" stroke-width="1.2"/>
<line x1="351.85" y1="405.50" x2="358.85" y2="405.50" stroke="#000" stroke-width="1.2"/>
<line x1="368.50" y1="476.80" x2="368.50" y2="468.80" stroke="#000" stroke-width="1.2"/>
<line x1="364.90" y1="468.50" x2="371.90" y2="468.50" stroke="#000" stroke-width="1.2"/>
<text x="349.15" y="528.80" font-size="11.5" text-anchor="middle" textLength="28.90" lengthAdjust="spacingAndGlyphs">Day 8</text>
<rect x="387.10" y="405.60" width="13.20" height="107.80" fill="#9f3646"/>
<rect x="400.30" y="465.80" width="12.80" height="47.60" fill="#4c6287"/>
<rect x="413.10" y="395.60" width="12.80" height="117.80" fill="#78a95a"/>
<rect x="425.90" y="458.50" width="13.10" height="54.90" fill="#6d4a6d"/>
<line x1="393.50" y1="405.60" x2="393.50" y2="395.10" stroke="#000" stroke-width="1.2"/>
<line x1="390.20" y1="395.50" x2="397.20" y2="395.50" stroke="#000" stroke-width="1.2"/>
<line x1="406.50" y1="465.80" x2="406.50" y2="464.00" stroke="#000" stroke-width="1.2"/>
<line x1="403.20" y1="464.50" x2="410.20" y2="464.50" stroke="#000" stroke-width="1.2"/>
<line x1="419.50" y1="395.60" x2="419.50" y2="379.30" stroke="#000" stroke-width="1.2"/>
<line x1="416.00" y1="379.50" x2="423.00" y2="379.50" stroke="#000" stroke-width="1.2"/>
<line x1="432.50" y1="458.50" x2="432.50" y2="450.80" stroke="#000" stroke-width="1.2"/>
<line x1="428.95" y1="450.50" x2="435.95" y2="450.50" stroke="#000" stroke-width="1.2"/>
<text x="413.05" y="528.80" font-size="11.5" text-anchor="middle" textLength="28.60" lengthAdjust="spacingAndGlyphs">Day 9</text>
<rect x="450.70" y="390.70" width="12.70" height="122.70" fill="#9f3646"/>
<rect x="463.40" y="463.80" width="12.80" height="49.60" fill="#4c6287"/>
<rect x="476.20" y="386.30" width="13.30" height="127.10" fill="#78a95a"/>
<rect x="489.50" y="454.70" width="13.00" height="58.70" fill="#6d4a6d"/>
<line x1="457.50" y1="390.70" x2="457.50" y2="379.30" stroke="#000" stroke-width="1.2"/>
<line x1="453.55" y1="379.50" x2="460.55" y2="379.50" stroke="#000" stroke-width="1.2"/>
<line x1="469.50" y1="463.80" x2="469.50" y2="458.80" stroke="#000" stroke-width="1.2"/>
<line x1="466.30" y1="458.50" x2="473.30" y2="458.50" stroke="#000" stroke-width="1.2"/>
<line x1="482.50" y1="386.30" x2="482.50" y2="376.80" stroke="#000" stroke-width="1.2"/>
<line x1="479.35" y1="376.50" x2="486.35" y2="376.50" stroke="#000" stroke-width="1.2"/>
<line x1="496.50" y1="454.70" x2="496.50" y2="451.50" stroke="#000" stroke-width="1.2"/>
<line x1="492.50" y1="451.50" x2="499.50" y2="451.50" stroke="#000" stroke-width="1.2"/>
<text x="476.60" y="528.80" font-size="11.5" text-anchor="middle" textLength="35.50" lengthAdjust="spacingAndGlyphs">Day 10</text>
<text x="275.00" y="299.90" font-size="18" text-anchor="start" textLength="11.00" lengthAdjust="spacingAndGlyphs">D</text>
<rect x="321.50" y="286.70" width="7.20" height="7.00" fill="#9f3646"/>
<text x="333.90" y="293.60" font-size="9.6" text-anchor="start" textLength="87.30" lengthAdjust="spacingAndGlyphs">JAK2 (control) (n = 6)</text>
<rect x="321.50" y="299.90" width="7.20" height="7.00" fill="#4c6287"/>
<text x="333.90" y="306.80" font-size="9.6" text-anchor="start" textLength="70.00" lengthAdjust="spacingAndGlyphs">JAK2 (Elo) (n = 6)</text>
<rect x="321.50" y="313.10" width="7.20" height="7.00" fill="#78a95a"/>
<text x="333.90" y="320.00" font-size="9.6" text-anchor="start" textLength="88.40" lengthAdjust="spacingAndGlyphs">CALR (control) (n = 6)</text>
<rect x="321.50" y="326.10" width="7.20" height="7.00" fill="#6d4a6d"/>
<text x="333.90" y="333.00" font-size="9.6" text-anchor="start" textLength="71.10" lengthAdjust="spacingAndGlyphs">CALR (Elo) (n = 6)</text>
<text transform="translate(285.30,422.25) rotate(-90)" x="0" y="0" font-size="14" text-anchor="middle" textLength="152.50" lengthAdjust="spacingAndGlyphs">Spindle-shaped cells (%)</text>
<path d="M329.50,398.10V394.50H343.50V398.10" fill="none" stroke="#000" stroke-width="1.3"/>
<line x1="331.20" y1="388.20" x2="335.80" y2="388.20" stroke="#1a1a1a" stroke-width="0.7"/>
<line x1="332.35" y1="386.21" x2="334.65" y2="390.19" stroke="#1a1a1a" stroke-width="0.7"/>
<line x1="334.65" y1="386.21" x2="332.35" y2="390.19" stroke="#1a1a1a" stroke-width="0.7"/>
<line x1="337.00" y1="388.20" x2="341.60" y2="388.20" stroke="#1a1a1a" stroke-width="0.7"/>
<line x1="338.15" y1="386.21" x2="340.45" y2="390.19" stroke="#1a1a1a" stroke-width="0.7"/>
<line x1="340.45" y1="386.21" x2="338.15" y2="390.19" stroke="#1a1a1a" stroke-width="0.7"/>
<path d="M354.50,398.10V394.50H368.50V398.10" fill="none" stroke="#000" stroke-width="1.3"/>
<line x1="356.35" y1="388.20" x2="360.95" y2="388.20" stroke="#1a1a1a" stroke-width="0.7"/>
<line x1="357.50" y1="386.21" x2="359.80" y2="390.19" stroke="#1a1a1a" stroke-width="0.7"/>
<line x1="359.80" y1="386.21" x2="357.50" y2="390.19" stroke="#1a1a1a" stroke-width="0.7"/>
<line x1="362.15" y1="388.20" x2="366.75" y2="388.20" stroke="#1a1a1a" stroke-width="0.7"/>
<line x1="363.30" y1="386.21" x2="365.60" y2="390.19" stroke="#1a1a1a" stroke-width="0.7"/>
<line x1="365.60" y1="386.21" x2="363.30" y2="390.19" stroke="#1a1a1a" stroke-width="0.7"/>
<path d="M393.50,370.10V366.50H407.50V370.10" fill="none" stroke="#000" stroke-width="1.3"/>
<line x1="395.30" y1="359.50" x2="399.90" y2="359.50" stroke="#1a1a1a" stroke-width="0.7"/>
<line x1="396.45" y1="357.51" x2="398.75" y2="361.49" stroke="#1a1a1a" stroke-width="0.7"/>
<line x1="398.75" y1="357.51" x2="396.45" y2="361.49" stroke="#1a1a1a" stroke-width="0.7"/>
<line x1="401.10" y1="359.50" x2="405.70" y2="359.50" stroke="#1a1a1a" stroke-width="0.7"/>
<line x1="402.25" y1="357.51" x2="404.55" y2="361.49" stroke="#1a1a1a" stroke-width="0.7"/>
<line x1="404.55" y1="357.51" x2="402.25" y2="361.49" stroke="#1a1a1a" stroke-width="0.7"/>
<path d="M419.50,370.10V366.50H432.50V370.10" fill="none" stroke="#000" stroke-width="1.3"/>
<line x1="420.75" y1="359.50" x2="425.35" y2="359.50" stroke="#1a1a1a" stroke-width="0.7"/>
<line x1="421.90" y1="357.51" x2="424.20" y2="361.49" stroke="#1a1a1a" stroke-width="0.7"/>
<line x1="424.20" y1="357.51" x2="421.90" y2="361.49" stroke="#1a1a1a" stroke-width="0.7"/>
<line x1="426.55" y1="359.50" x2="431.15" y2="359.50" stroke="#1a1a1a" stroke-width="0.7"/>
<line x1="427.70" y1="357.51" x2="430.00" y2="361.49" stroke="#1a1a1a" stroke-width="0.7"/>
<line x1="430.00" y1="357.51" x2="427.70" y2="361.49" stroke="#1a1a1a" stroke-width="0.7"/>
<path d="M456.50,370.10V366.50H471.50V370.10" fill="none" stroke="#000" stroke-width="1.3"/>
<line x1="458.95" y1="359.50" x2="463.55" y2="359.50" stroke="#1a1a1a" stroke-width="0.7"/>
<line x1="460.10" y1="357.51" x2="462.40" y2="361.49" stroke="#1a1a1a" stroke-width="0.7"/>
<line x1="462.40" y1="357.51" x2="460.10" y2="361.49" stroke="#1a1a1a" stroke-width="0.7"/>
<line x1="464.75" y1="359.50" x2="469.35" y2="359.50" stroke="#1a1a1a" stroke-width="0.7"/>
<line x1="465.90" y1="357.51" x2="468.20" y2="361.49" stroke="#1a1a1a" stroke-width="0.7"/>
<line x1="468.20" y1="357.51" x2="465.90" y2="361.49" stroke="#1a1a1a" stroke-width="0.7"/>
<path d="M482.50,370.10V366.50H496.50V370.10" fill="none" stroke="#000" stroke-width="1.3"/>
<line x1="484.30" y1="359.50" x2="488.90" y2="359.50" stroke="#1a1a1a" stroke-width="0.7"/>
<line x1="485.45" y1="357.51" x2="487.75" y2="361.49" stroke="#1a1a1a" stroke-width="0.7"/>
<line x1="487.75" y1="357.51" x2="485.45" y2="361.49" stroke="#1a1a1a" stroke-width="0.7"/>
<line x1="490.10" y1="359.50" x2="494.70" y2="359.50" stroke="#1a1a1a" stroke-width="0.7"/>
<line x1="491.25" y1="357.51" x2="493.55" y2="361.49" stroke="#1a1a1a" stroke-width="0.7"/>
<line x1="493.55" y1="357.51" x2="491.25" y2="361.49" stroke="#1a1a1a" stroke-width="0.7"/>
</svg></body></html>
